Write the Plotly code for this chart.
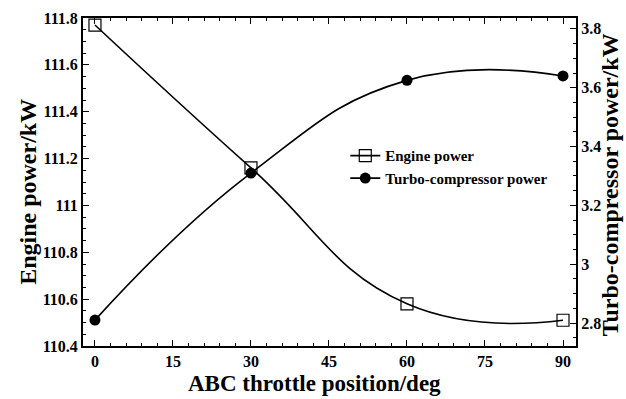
import plotly.graph_objects as go

# Throttle positions and measured powers
throttle_deg = [0, 30, 60, 90]
engine_power_kw = [111.77, 111.16, 110.58, 110.51]
turbo_power_kw = [2.81, 3.31, 3.625, 3.64]

x_ticks = [0, 15, 30, 45, 60, 75, 90]
left_ticks = [110.4, 110.6, 110.8, 111.0, 111.2, 111.4, 111.6, 111.8]
left_labels = ["110.4", "110.6", "110.8", "111", "111.2", "111.4", "111.6", "111.8"]
right_ticks = [2.8, 3.0, 3.2, 3.4, 3.6, 3.8]
right_labels = ["2.8", "3", "3.2", "3.4", "3.6", "3.8"]

FONT = "Liberation Serif"

fig = go.Figure()

fig.add_trace(go.Scatter(
    x=throttle_deg, y=engine_power_kw, name="Engine power",
    mode="lines+markers",
    line=dict(color="black", width=1.6, shape="spline", smoothing=1.3),
    marker=dict(symbol="square-open", size=12, color="black", line=dict(width=1.2)),
    yaxis="y",
))
fig.add_trace(go.Scatter(
    x=throttle_deg, y=turbo_power_kw, name="Turbo-compressor power",
    mode="lines+markers",
    line=dict(color="black", width=1.6, shape="spline", smoothing=1.3),
    marker=dict(symbol="circle", size=11, color="black"),
    yaxis="y2",
))

axis_common = dict(
    showline=True, linecolor="black", linewidth=2,
    ticks="inside", tickcolor="black", ticklen=6, tickwidth=1.2,
    showgrid=False, zeroline=False, automargin=False,
    tickfont=dict(family=FONT, size=16, color="black", weight="bold"),
)

fig.update_layout(
    width=626, height=399,
    margin=dict(l=83, r=50, t=18, b=53),
    paper_bgcolor="white", plot_bgcolor="white",
    font=dict(family=FONT, color="black"),
    xaxis=dict(
        **axis_common,
        range=[-2.3, 92.5], tickvals=x_ticks, mirror="ticks",
        minor=dict(dtick=3, ticks="inside", ticklen=3, tickcolor="black", tickwidth=1),
    ),
    yaxis=dict(
        **axis_common,
        range=[110.4, 111.8], tickvals=left_ticks, ticktext=left_labels,
        minor=dict(dtick=0.05, tick0=110.4, ticks="inside", ticklen=3, tickcolor="black", tickwidth=1),
    ),
    yaxis2=dict(
        **axis_common,
        overlaying="y", side="right",
        range=[2.722, 3.837], tickvals=right_ticks, ticktext=right_labels,
        minor=dict(dtick=0.05, tick0=2.8, ticks="inside", ticklen=3, tickcolor="black", tickwidth=1),
    ),
    legend=dict(
        x=0.532, y=0.63, xanchor="left", yanchor="top",
        bgcolor="rgba(0,0,0,0)", itemwidth=30, tracegroupgap=0,
        font=dict(family=FONT, size=15, color="black", weight="bold"),
    ),
    showlegend=True,
)

# Axis titles placed in pixel offsets from the plot area
title_font = dict(family=FONT, color="black", weight="bold")
fig.add_annotation(
    text="ABC throttle position/deg", xref="paper", yref="paper",
    x=0.47, y=0, yshift=-37, xanchor="center", yanchor="middle",
    showarrow=False, font=dict(size=23, **title_font),
)
fig.add_annotation(
    text="Engine power/kW", xref="paper", yref="paper",
    x=0, xshift=-55, y=0.47, xanchor="center", yanchor="middle", textangle=-90,
    showarrow=False, font=dict(size=24, **title_font),
)
fig.add_annotation(
    text="Turbo-compressor power/kW", xref="paper", yref="paper",
    x=1, xshift=34, y=0.49, xanchor="center", yanchor="middle", textangle=-90,
    showarrow=False, font=dict(size=24, **title_font),
)

fig.write_html("out.html")
